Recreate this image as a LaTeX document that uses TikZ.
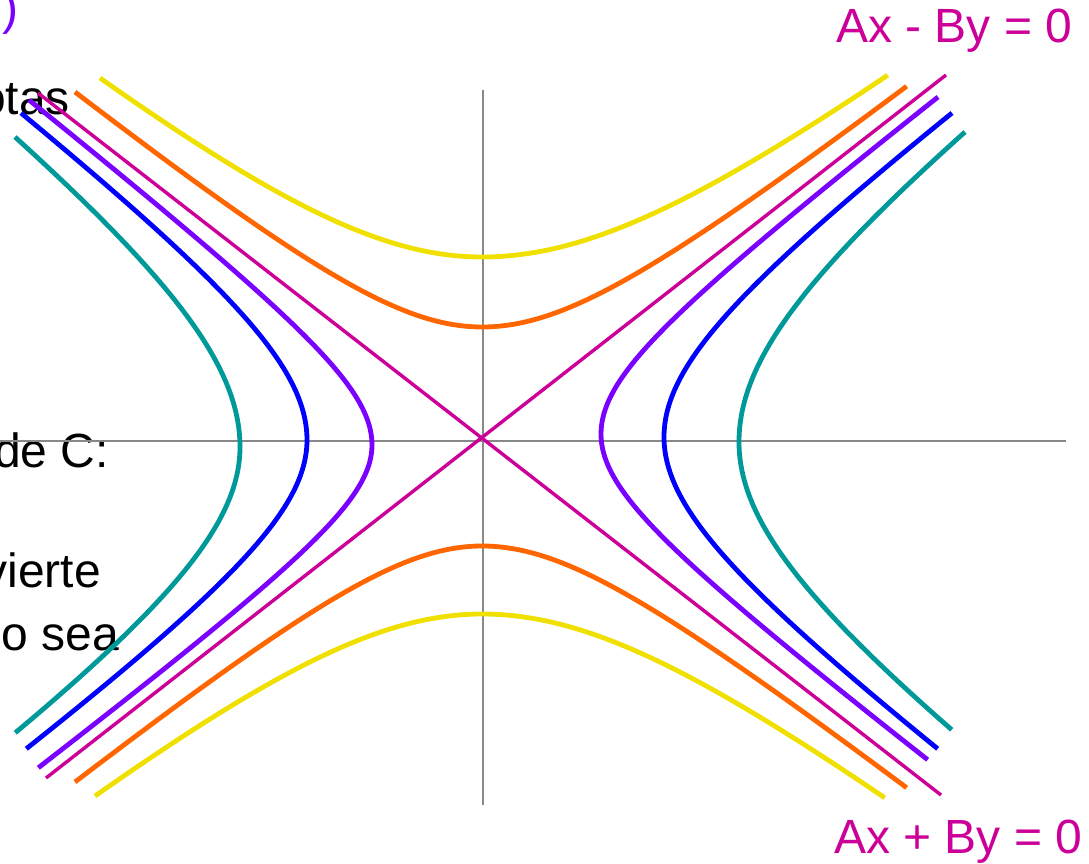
\documentclass[tikz,border=0pt]{standalone}
\usepackage{fontspec}
\setmainfont{Liberation Sans}
\definecolor{cteal}{RGB}{0,153,153}
\definecolor{cblue}{RGB}{0,0,255}
\definecolor{cpurple}{RGB}{122,0,255}
\definecolor{cmag}{RGB}{204,0,153}
\definecolor{corange}{RGB}{255,102,0}
\definecolor{cyellow}{RGB}{240,224,0}
\definecolor{caxis}{RGB}{136,136,136}
\newcommand\hypH[7]{%
  \pgfmathsetmacro\hA{abs(#2-482)}%
  \pgfmathsetmacro\hS{(#2-482)/\hA}%
  \pgfmathsetmacro\hKa{(abs(#4-482)/\hA)^2-1}%
  \pgfmathsetmacro\hKb{(abs(#6-482)/\hA)^2-1}%
  \draw[#1] plot[domain=0:1,samples=70] ({482+\hS*\hA*sqrt(1+\hKa*(1-\x)^2)},{#5+\x*(#3-#5)})
     -- plot[domain=0:1,samples=70] ({482+\hS*\hA*sqrt(1+\hKb*\x^2)},{#3+\x*(#7-#3)});
}
\newcommand\hypV[7]{%
  \pgfmathsetmacro\hA{abs(#3-438)}%
  \pgfmathsetmacro\hS{(#3-438)/\hA}%
  \pgfmathsetmacro\hKa{(abs(#5-438)/\hA)^2-1}%
  \pgfmathsetmacro\hKb{(abs(#7-438)/\hA)^2-1}%
  \draw[#1] plot[domain=0:1,samples=70] ({#4+\x*(#2-#4)},{438+\hS*\hA*sqrt(1+\hKa*(1-\x)^2)})
     -- plot[domain=0:1,samples=70] ({#2+\x*(#6-#2)},{438+\hS*\hA*sqrt(1+\hKb*\x^2)});
}
\begin{document}
\begin{tikzpicture}[x=1pt,y=-1pt,
  txt/.style={inner sep=0pt, font=\fontsize{48}{57}\selectfont},
  curve/.style={line width=4.8pt, line join=round},
  asym/.style={line width=3.4pt, draw=cmag},
  axisline/.style={line width=2pt, draw=caxis}]
\useasboundingbox (0,0) rectangle (1089,864);
% left text fragments
\node[txt, anchor=base east, text=cpurple] (p0) at (19,25) {)};
\node[txt, anchor=base east] (t1) at (70,115) {otas};
\node[txt, anchor=base east] (t2) at (109,467) {de C:};
\node[txt, anchor=base east] (t3) at (101,587) {vierte};
\node[txt, anchor=base east] (t4) at (119,650) {o sea};
% labels
\node[txt, anchor=base west, text=cmag] (l1) at (836,43) {Ax - By = 0};
\node[txt, anchor=base west, text=cmag] (l2) at (834,853) {Ax + By = 0};
% axes
\coordinate (xl) at (0,440.5);
\coordinate (xr) at (1066,440.5);
\coordinate (yt) at (482.5,90);
\coordinate (yb) at (482.5,805);
\draw[axisline] (xl) -- (xr);
\draw[axisline] (yt) -- (yb);
% asymptotes
\coordinate (a1) at (38,93);
\coordinate (a2) at (941,795);
\coordinate (a3) at (46,778);
\coordinate (a4) at (946,75);
\draw[asym] (a1) -- (a2);
\draw[asym] (a3) -- (a4);
% horizontal hyperbolas
\hypH{curve,draw=cteal}{240}{447}{15}{137}{15}{733}
\hypH{curve,draw=cteal}{739}{442}{965}{132}{952}{730}
\hypH{curve,draw=cblue}{307}{440}{21}{113}{26}{749}
\hypH{curve,draw=cblue}{664}{437}{952}{113}{938}{749}
\hypH{curve,draw=cpurple}{372}{445}{29}{100}{38}{768}
\hypH{curve,draw=cpurple}{601}{434}{938}{97}{928}{760}
% vertical hyperbolas
\hypV{curve,draw=corange}{482}{327}{75}{92}{907}{86}
\hypV{curve,draw=corange}{482}{546}{75}{782}{907}{788}
\hypV{curve,draw=cyellow}{482}{257}{100}{78}{888}{75}
\hypV{curve,draw=cyellow}{482}{614}{95}{796}{885}{798}
\end{tikzpicture}
\end{document}
